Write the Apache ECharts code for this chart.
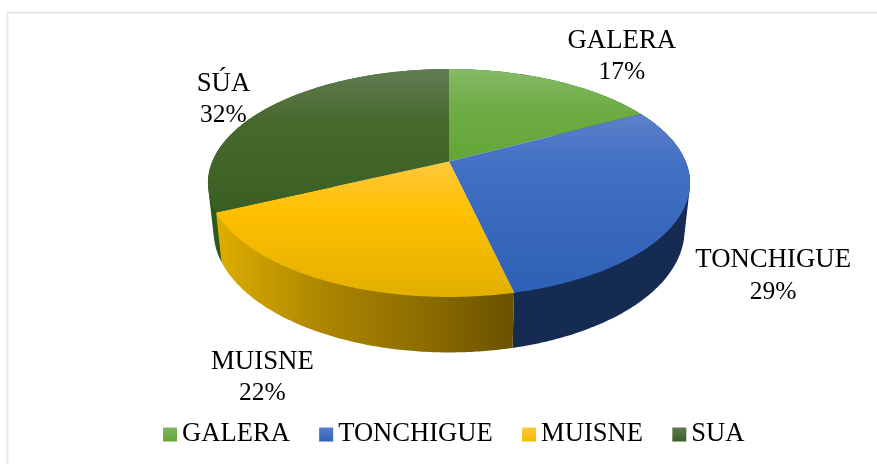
<!DOCTYPE html>
<html><head><meta charset="utf-8">
<style>html,body{margin:0;padding:0;background:#fff}#c{width:877px;height:464px}</style>
<script src="https://cdn.jsdelivr.net/npm/echarts@6/dist/echarts.min.js"></script>
</head><body><div id="c"></div>
<script>
const categories = ['GALERA', 'TONCHIGUE', 'MUISNE', 'SUA'];
const labelNames = ['GALERA', 'TONCHIGUE', 'MUISNE', 'SÚA'];
const values = [17.2, 29.2, 21.6, 32];

// Styles
const FONT = '"Liberation Serif","Times New Roman",serif';
const topStops = [
  [[69,'#84BA66'],[112,'#6EAC44'],[165,'#62A535']],
  [[115,'#5C7FCA'],[165,'#4270C3'],[295,'#2D60B6']],
  [[162,'#FFC83C'],[212,'#FFC000'],[297,'#E2AF00']],
  [[69,'#627C53'],[120,'#48692E'],[212,'#3A5E22']]
];
const wallFill = [
  '#2F5A1A',
  '#152B52',
  {type:'linear',x:218,y:0,x2:514,y2:0,global:true,colorStops:[
    {offset:0,color:'#DDAD00'},{offset:.35,color:'#AD8600'},{offset:.7,color:'#8C6C00'},{offset:1,color:'#6B5200'}]},
  '#2C5A18'
];
const wallOrder = [0, 1, 2, 0];
const legendFill = [['#80B761','#64A638'],['#5A7DC9','#2F62B8'],['#FFC83C','#F5BC00'],['#5F7A50','#3B5F23']];
// Layout: perspective disc
const cx = 449, apexY = 161.5, a = 236.7, b = 109.9, k = 0.1886;
const botScaleX = 0.977, botScaleY = 1.07, botApexY = 207.5;
const labelOffset = [[68,-24],[90.5,65],[-62,96.5],[-44,-8.5]];

const total = values.reduce((s,v)=>s+v,0);
const starts = values.map((_,i)=>values.slice(0,i).reduce((s,v)=>s+v,0)/total*2*Math.PI);
const ends = values.map((_,i)=>values.slice(0,i+1).reduce((s,v)=>s+v,0)/total*2*Math.PI);

function rim(t, bottom){
  const u = Math.sin(t), v = -Math.cos(t), w = 1 - k*v;
  const x = a*u/w, y = b*v/w;
  return bottom ? [cx + x*botScaleX, botApexY + y*botScaleY] : [cx + x, apexY + y];
}
function arc(t0, t1, bottom){
  const n = Math.max(2, Math.ceil((t1-t0)/0.01)), pts = [];
  for (let i=0;i<=n;i++) pts.push(rim(t0+(t1-t0)*i/n, bottom));
  return pts;
}
// The wall of a slice is the hull of its two rims, so its silhouette is straight like a cylinder's.
function hull(points){
  const p = points.slice().sort((m,n)=>m[0]-n[0]||m[1]-n[1]);
  const cross = (o,m,n)=>(m[0]-o[0])*(n[1]-o[1])-(m[1]-o[1])*(n[0]-o[0]);
  const half = list=>{
    const h = [];
    for (const q of list){
      while (h.length>=2 && cross(h[h.length-2],h[h.length-1],q)<=0) h.pop();
      h.push(q);
    }
    h.pop();
    return h;
  };
  return half(p).concat(half(p.slice().reverse()));
}
function vGrad(stops){
  const y0 = 69, y1 = 297;
  return {type:'linear',x:0,y:y0,x2:0,y2:y1,global:true,
    colorStops:stops.map(s=>({offset:(s[0]-y0)/(y1-y0),color:s[1]}))};
}
function localGrad(c){
  return {type:'linear',x:0,y:0,x2:0,y2:1,colorStops:[{offset:0,color:c[0]},{offset:1,color:c[1]}]};
}

const wallSeries = {
  type:'custom', name:'walls', coordinateSystem:'none', z:2, silent:true,
  data: values.map(v=>[v]),
  renderItem(params){
    const i = params.dataIndex;
    const pts = hull(arc(starts[i],ends[i],false).concat(arc(starts[i],ends[i],true)));
    return {type:'polygon',z2:wallOrder[i],shape:{points:pts},style:{fill:wallFill[i]}};
  }
};
const topSeries = categories.map((name,i)=>({
  type:'custom', name, coordinateSystem:'none', z:3, silent:true,
  data:[[values[i]]],
  renderItem(params, api){
    const pct = api.value(0)/total*100;
    const mid = rim((starts[i]+ends[i])/2,false);
    const lx = mid[0]+labelOffset[i][0], ly = mid[1]+labelOffset[i][1];
    return {type:'group',children:[
      {type:'polygon',shape:{points:[[cx,apexY]].concat(arc(starts[i],ends[i],false))},
       style:{fill:vGrad(topStops[i])}},
      {type:'text',z2:10,style:{x:lx,y:ly-15.5,text:labelNames[i],
        font:'26.8px '+FONT,fill:'#000',align:'center',verticalAlign:'middle'}},
      {type:'text',z2:10,style:{x:lx,y:ly+16,text:Math.round(pct)+'%',
        font:'25.5px '+FONT,fill:'#000',align:'center',verticalAlign:'middle'}}
    ]};
  }
}));

const chart = echarts.init(document.getElementById('c'),null,{renderer:'canvas'});
chart.setOption({
  animation:false,
  backgroundColor:'#fff',
  graphic:[
    {type:'line',shape:{x1:7.5,y1:12.5,x2:7.5,y2:464},style:{stroke:'#E3E8EE',lineWidth:2}},
    {type:'line',shape:{x1:7,y1:12.5,x2:877,y2:12.5},style:{stroke:'#E3E8EE',lineWidth:2}}
  ],
  legend:{
    left:163, top:421, padding:0, itemWidth:14, itemHeight:14, itemGap:29.3, icon:'rect', selectedMode:false,
    textStyle:{fontFamily:FONT,fontSize:26.6,color:'#000',lineHeight:26,height:26},
    data:categories.map((name,i)=>({name,icon:'rect',itemStyle:{color:localGrad(legendFill[i])}}))
  },
  series:[wallSeries].concat(topSeries)
});
</script></body></html>
